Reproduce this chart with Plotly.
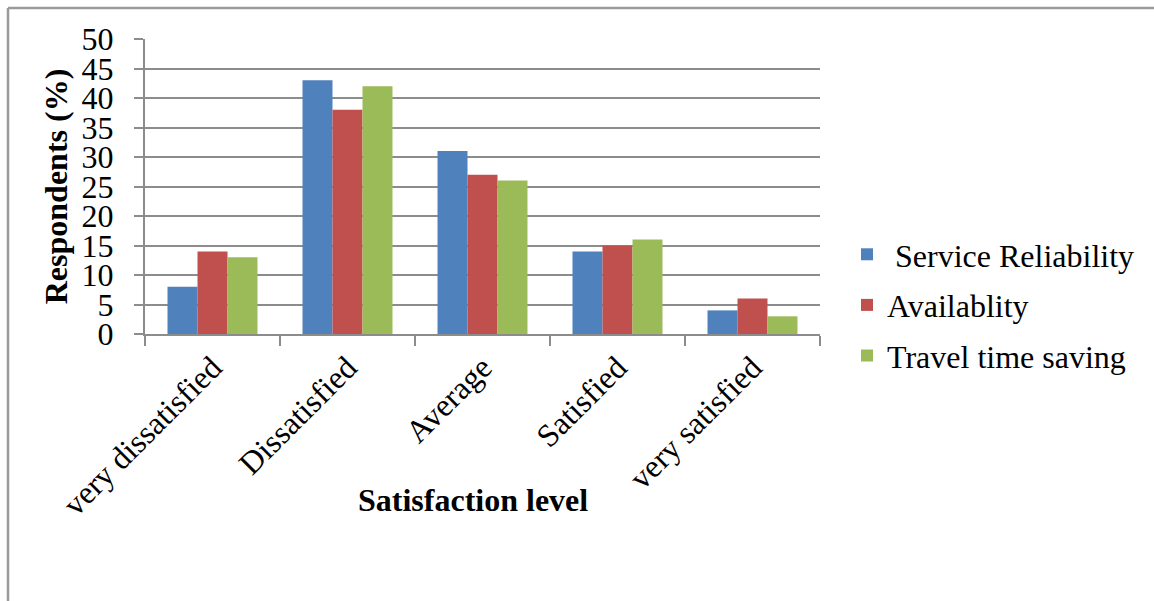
import plotly.graph_objects as go

categories = ["very dissatisfied", "Dissatisfied", "Average", "Satisfied", "very satisfied"]
service_reliability = [8, 43, 31, 14, 4]
availability = [14, 38, 27, 15, 6]
travel_time_saving = [13, 42, 26, 16, 3]

series_names = [" Service Reliability", "Availablity", "Travel time saving"]
series_values = [service_reliability, availability, travel_time_saving]
series_colors = ["#4F81BD", "#C0504D", "#9BBB59"]

FONT = "Liberation Serif, Times New Roman, serif"
FS = 32
GRID = "#8c8c8c"

fig = go.Figure()
for i, (name, vals, col) in enumerate(zip(series_names, series_values, series_colors)):
    fig.add_trace(go.Bar(
        x=categories, y=vals, name=name, marker_color=col,
        marker_line_width=0, legendgroup=f"g{i}",
    ))

# plot-area geometry (pixels) used for the outer frame and placed titles
L, R, T, B = 145, 334, 39, 267
W, H = 1154, 601
pw, ph = W - L - R, H - T - B

def px_x(x):
    return (x - L) / pw

def px_y(y):
    return (H - B - y) / ph

fig.update_layout(
    width=W, height=H,
    margin=dict(l=L, r=R, t=T, b=B, autoexpand=False),
    paper_bgcolor="white", plot_bgcolor="white",
    barmode="group", bargap=1/3, bargroupgap=0,
    font=dict(family=FONT, size=FS, color="black"),
    showlegend=True,
    legend=dict(
        x=px_x(847), y=px_y(227), xanchor="left", yanchor="top",
        font=dict(family=FONT, size=FS, color="black"),
        traceorder="grouped", tracegroupgap=6,
        itemwidth=30, bgcolor="rgba(0,0,0,0)",
    ),
    xaxis=dict(
        type="category", range=[-0.5, 4.5],
        showline=True, linecolor=GRID, linewidth=2,
        ticks="outside", tickson="boundaries", ticklen=10, tickcolor=GRID, tickwidth=2,
        tickangle=-45, tickfont=dict(family=FONT, size=FS),
        showgrid=False,
    ),
    yaxis=dict(
        range=[0, 50], dtick=5, tick0=0,
        showline=True, linecolor=GRID, linewidth=2,
        ticks="outside", ticklen=9, tickcolor=GRID, tickwidth=2,
        showgrid=True, gridcolor=GRID, gridwidth=2,
        zeroline=False,
        tickfont=dict(family=FONT, size=FS),
        ticklabelstandoff=14,
        title=dict(text="<b>Respondents (%)</b>", font=dict(family=FONT, size=FS), standoff=4),
    ),
    annotations=[
        dict(text="<b>Satisfaction level</b>", xref="paper", yref="paper",
             x=px_x(473), y=px_y(500), xanchor="center", yanchor="middle",
             showarrow=False, font=dict(family=FONT, size=FS, color="black")),
    ],
    shapes=[
        dict(type="line", xref="paper", yref="paper",
             x0=px_x(8), x1=px_x(1160), y0=px_y(8), y1=px_y(8),
             line=dict(color="#9a9a9a", width=2.5)),
        dict(type="line", xref="paper", yref="paper",
             x0=px_x(8), x1=px_x(8), y0=px_y(8), y1=px_y(610),
             line=dict(color="#9a9a9a", width=2.5)),
    ],
)

fig.write_html("out.html")
